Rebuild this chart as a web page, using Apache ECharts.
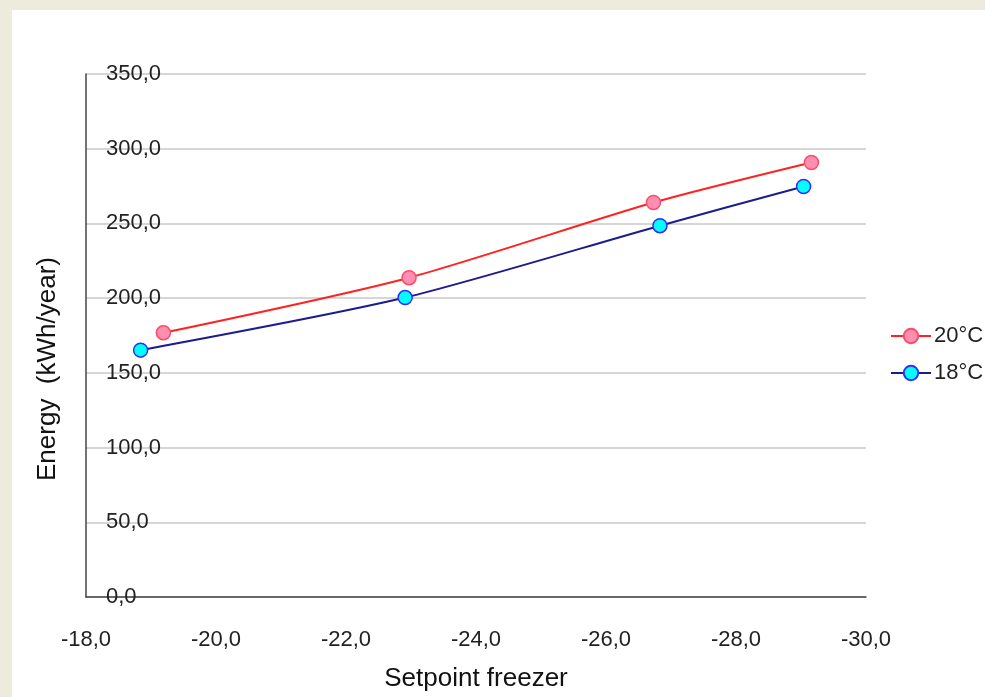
<!DOCTYPE html>
<html><head><meta charset="utf-8">
<script src="https://cdn.jsdelivr.net/npm/echarts@6/dist/echarts.min.js"></script>
<style>html,body{margin:0;padding:0;}#c{width:985px;height:697px;}</style>
</head><body><div id="c"></div>
<script>
const seriesNames = ['20°C', '18°C'];
const x20 = [-19.19, -22.97, -26.73, -29.16];
const y20 = [176.8, 213.7, 264.0, 290.8];
const x18 = [-18.84, -22.91, -26.83, -29.04];
const y18 = [165.2, 200.4, 248.5, 274.7];
const xTicks = [-18, -20, -22, -24, -26, -28, -30];
const yTicks = [0, 50, 100, 150, 200, 250, 300, 350];
const xTitle = 'Setpoint freezer';
const yTitle = 'Energy  (kWh/year)';

const FONT = '"Liberation Sans", Arial, sans-serif';
const fmt = v => Number(v).toFixed(1).replace('.', ',');
const pair = (xs, ys) => xs.map((x, i) => [x, ys[i]]);

const chart = echarts.init(document.getElementById('c'), null, {renderer: 'canvas'});
chart.setOption({
  backgroundColor: '#EDEBDB',
  animation: false,
  textStyle: {fontFamily: FONT},
  graphic: [
    {type: 'rect', z: -10, shape: {x: 12, y: 10, width: 985, height: 697}, style: {fill: '#ffffff'}},
    {type: 'text', x: 48, y: 369, rotation: Math.PI / 2,
     style: {text: yTitle, font: '26px ' + FONT, fill: '#111', align: 'center', verticalAlign: 'middle'}}
  ],
  grid: {left: 86, right: 119, top: 74, bottom: 99},
  xAxis: {type: 'value', inverse: true, min: Math.min(...xTicks), max: Math.max(...xTicks), interval: 2,
    axisLine: {show: true, onZero: false, lineStyle: {color: '#444', width: 1.5}},
    axisTick: {show: false}, splitLine: {show: false},
    axisLabel: {formatter: fmt, fontSize: 22, color: '#222', margin: 32, fontFamily: FONT},
    name: xTitle, nameLocation: 'middle', nameGap: 82,
    nameTextStyle: {fontSize: 26, color: '#111', verticalAlign: 'middle', fontFamily: FONT}},
  yAxis: {type: 'value', min: Math.min(...yTicks), max: Math.max(...yTicks), interval: 50,
    axisLine: {show: true, onZero: false, lineStyle: {color: '#444', width: 1.5}},
    axisTick: {show: false},
    splitLine: {show: true, lineStyle: {color: '#c8c8c8', width: 1.5}},
    axisLabel: {inside: true, margin: 20, formatter: fmt, fontSize: 22, color: '#222', fontFamily: FONT}},
  legend: {
    orient: 'vertical', left: 885, top: 320, itemWidth: 40, itemHeight: 18, itemGap: 15,
    textStyle: {fontSize: 22, color: '#222', fontFamily: FONT, padding: [0, 0, 0, -2]},
    data: seriesNames
  },
  series: [
    {name: seriesNames[0], type: 'line', data: pair(x20, y20), smooth: 0.25,
     symbol: 'circle', symbolSize: 14, z: 3,
     lineStyle: {color: '#ff2222', width: 2},
     itemStyle: {color: '#ff8fb0', borderColor: '#ff4a6a', borderWidth: 1.5}},
    {name: seriesNames[1], type: 'line', data: pair(x18, y18), smooth: 0.25,
     symbol: 'circle', symbolSize: 14, z: 3,
     lineStyle: {color: '#1c1c8c', width: 2},
     itemStyle: {color: '#00ffff', borderColor: '#2e2eff', borderWidth: 1.5}}
  ]
});
</script></body></html>
